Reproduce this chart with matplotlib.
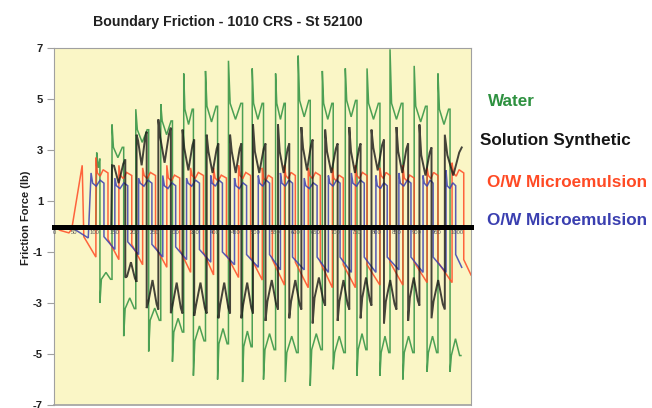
import matplotlib
matplotlib.use("Agg")
import matplotlib.pyplot as plt

# ---- data: reversal times (s), stroke tip force and stroke plateau force (lb) ----
# Strokes alternate in sign; each stroke runs from one reversal time to the next.
water_t = [106, 114, 144, 173, 203, 235, 265, 294, 322, 346, 376, 406, 433, 468, 492, 520,
           550, 574, 606, 636, 666, 693, 723, 752, 777, 809, 834, 866, 894, 926, 953, 983, 1010]
water_peak = [2.9, -3.0, 4.0, -4.3, 4.6, -4.9, 4.8, -5.3, 6.0, -5.85, 6.1, -6.0, 6.5, -6.1, 6.2, -6.0,
              6.0, -6.1, 6.7, -6.25, 6.1, -5.6, 6.2, -5.85, 6.2, -5.85, 6.95, -6.0, 6.3, -5.7, 6.0, -5.7]
water_level = [2.3, -1.8, 2.7, -2.8, 3.3, -3.2, 3.6, -3.6, 4.0, -3.9, 4.1, -4.0, 4.2, -4.1, 4.2, -4.2,
               4.2, -4.3, 4.3, -4.2, 4.2, -4.3, 4.3, -4.2, 4.2, -4.3, 4.2, -4.3, 4.1, -4.3, 4.0, -4.4]

synth_t = [144, 177, 205, 230, 259, 290, 319, 348, 379, 408, 437, 465, 494, 525, 556, 584,
           614, 642, 673, 704, 733, 761, 788, 819, 850, 879, 907, 937, 970, 1012]
synth_peak = [2.4, -2.0, 3.6, -3.2, 4.2, -3.4, 3.8, -3.5, 3.6, -3.6, 3.6, -3.6, 4.0, -3.7, 4.0,
              -3.6, 3.9, -3.8, 3.8, -3.7, 3.9, -3.6, 3.8, -3.8, 3.9, -3.7, 4.0, -3.6, 3.6]
synth_level = [1.7, -1.4, 2.4, -2.1, 2.5, -2.2, 2.2, -2.2, 2.1, -2.2, 2.1, -2.2, 2.1, -2.1, 2.1,
               -2.1, 2.2, -2.0, 2.1, -2.1, 2.1, -2.0, 2.2, -2.1, 2.1, -2.0, 2.0, -2.1, 2.0]

red_t = [74, 104, 134, 161, 193, 220, 252, 280, 312, 339, 371, 396, 428, 458, 488, 517, 542,
         572, 599, 631, 661, 691, 718, 748, 777, 809, 834, 866, 894, 926, 953, 988, 1017, 1035]
red_peak = [-0.4, 2.7, -0.5, 2.4, -0.7, 2.3, -0.8, 2.4, -0.9, 2.3, -1.0, 2.3, -1.1, 2.4, -1.2, 2.3,
            -1.3, 2.4, -1.4, 2.3, -1.4, 2.3, -1.5, 2.4, -1.5, 2.3, -1.4, 2.4, -1.4, 2.3, -1.4, 2.5, -1.3]
red_level = [-1.2, 2.1, -1.3, 2.0, -1.5, 2.0, -1.6, 1.9, -1.8, 2.0, -1.9, 1.9, -2.0, 2.0, -2.1, 1.9,
             -2.3, 2.0, -2.4, 2.0, -2.4, 1.9, -2.4, 2.0, -2.3, 2.0, -2.3, 1.9, -2.2, 2.0, -2.2, 2.1, -1.9]
red_lead = [(0, 0.0), (15, -0.15), (37, -0.25), (44, -0.1), (70, 2.4)]

blue_t = [92, 124, 151, 183, 210, 243, 270, 302, 329, 361, 389, 418, 448, 478, 507, 535, 562,
          592, 621, 653, 681, 710, 738, 770, 799, 827, 856, 886, 916, 941, 973, 997, 1012]
blue_peak = [2.1, -0.4, 1.9, -0.6, 1.9, -0.7, 2.0, -0.8, 1.9, -0.9, 2.0, -1.0, 1.9, -1.1, 2.0, -1.1,
             2.1, -1.2, 1.9, -1.2, 2.0, -1.2, 2.1, -1.2, 2.0, -1.2, 2.1, -1.2, 2.0, -1.2, 2.2, -1.1]
blue_level = [1.7, -0.9, 1.6, -1.1, 1.7, -1.2, 1.6, -1.3, 1.7, -1.4, 1.7, -1.5, 1.6, -1.6, 1.7, -1.7,
              1.7, -1.7, 1.6, -1.8, 1.7, -1.8, 1.7, -1.8, 1.6, -1.7, 1.7, -1.8, 1.7, -1.8, 1.6, -1.6]
blue_lead = [(0, 0.0), (50, -0.1), (85, -0.45)]

# shape of one stroke: (fraction of stroke, multiple of plateau force)
water_shape = {1: [(0.12, 1.15), (0.5, 1.0), (0.88, 1.15), (1.0, 1.15)],
               -1: [(0.12, 1.15), (0.5, 1.0), (0.88, 1.15), (1.0, 1.15)]}
synth_shape = {1: [(0.15, 1.4), (0.5, 1.0), (0.85, 1.45), (1.0, 1.55)],
               -1: [(0.15, 1.4), (0.5, 1.0), (0.85, 1.45), (1.0, 1.55)]}
red_shape = {1: [(0.12, 1.0), (0.35, 0.94), (0.6, 1.06), (1.0, 1.0)],
             -1: [(1.0, 1.0)]}
blue_shape = {1: [(0.12, 1.0), (0.4, 0.93), (0.7, 1.07), (1.0, 1.0)],
              -1: [(1.0, 1.0)]}

y_ticks = [7, 5, 3, 1, -1, -3, -5, -7]
x_ticks = list(range(0, 1001, 50))

labels = ["Water", "Solution Synthetic", "O/W Microemulsion", "O/W Microemulsion"]
colors = ["#2e9140", "#161616", "#ff4a24", "#3a3fb0"]


def trace(bounds, peaks, levels, shape, lead=None):
    xs, ys = [], []
    for t, v in (lead or [(0, 0.0), (bounds[0] - 2, 0.0)]):
        xs.append(t)
        ys.append(v)
    for k in range(len(bounds) - 1):
        t0, t1 = bounds[k], bounds[k + 1]
        xs.append(t0)
        ys.append(peaks[k])
        for f, w in shape[1 if levels[k] > 0 else -1]:
            xs.append(t0 + f * (t1 - t0))
            ys.append(levels[k] * w)
    return xs, ys


plt.rcParams['font.family'] = ['Liberation Sans', 'DejaVu Sans']
fig = plt.figure(figsize=(6.52, 4.08), dpi=100)
ax = fig.add_axes([54 / 652, 1 - 405 / 408, (471 - 54) / 652, (405 - 48) / 408])
ax.set_facecolor("#faf6c6")

series = [
    (water_t, water_peak, water_level, water_shape, None),
    (red_t, red_peak, red_level, red_shape, red_lead),
    (blue_t, blue_peak, blue_level, blue_shape, blue_lead),
    (synth_t, synth_peak, synth_level, synth_shape, None),
]
draw_colors = [colors[0], colors[2], colors[3], colors[1]]
draw_alpha = [0.85, 0.85, 0.85, 0.8]
draw_lw = [1.1, 1.1, 1.1, 1.4]
for (bt, pk, lv, sh, ld), c, a, w in zip(series, draw_colors, draw_alpha, draw_lw):
    xs, ys = trace(bt, pk, lv, sh, ld)
    ax.plot(xs, ys, color=c, lw=w, alpha=a, solid_joinstyle="miter")

ax.set_xlim(0, 1035)
ax.set_ylim(-7, 7)

# zero axis carries the time labels
ax.spines['bottom'].set_position(('data', 0))
ax.spines['bottom'].set_color('black')
ax.spines['bottom'].set_linewidth(3.6)
ax.spines['bottom'].set_zorder(5)
for s in ['left', 'top', 'right']:
    ax.spines[s].set_color('#a0a0a0')
    ax.spines[s].set_linewidth(0.8)
ax.axhline(-7, color='#a0a0a0', lw=1.2, clip_on=False)

ax.set_xticks(x_ticks)
ax.set_xticklabels([str(v) for v in x_ticks], fontsize=4.2, color='#5a5a5a')
ax.tick_params(axis='x', length=0, pad=2.5)
ax.xaxis.set_zorder(6)

ax.set_yticks(y_ticks)
ax.set_yticklabels([str(v) for v in y_ticks], fontsize=8, fontweight='bold', color='#202020')
ax.tick_params(axis='y', length=5, width=0.8, color='#a0a0a0', pad=3)

fig.text(26 / 652, 1 - 218 / 408, "Friction Force (lb)", rotation=90, ha='center', va='center',
         fontsize=8, fontweight='bold', color='#202020')
fig.text(228 / 652, 1 - 22 / 408, "Boundary Friction - 1010 CRS - St 52100", ha='center',
         va='center', fontsize=10.2, fontweight='bold', color='#202020')

legend_pos = [(488, 101), (480, 141), (487, 183), (487, 221)]
for (px, py), txt, c in zip(legend_pos, labels, colors):
    fig.text(px / 652, 1 - py / 408, txt, ha='left', va='center', fontsize=12.3,
             fontweight='bold', color=c)

fig.savefig("out.png", dpi=100)
